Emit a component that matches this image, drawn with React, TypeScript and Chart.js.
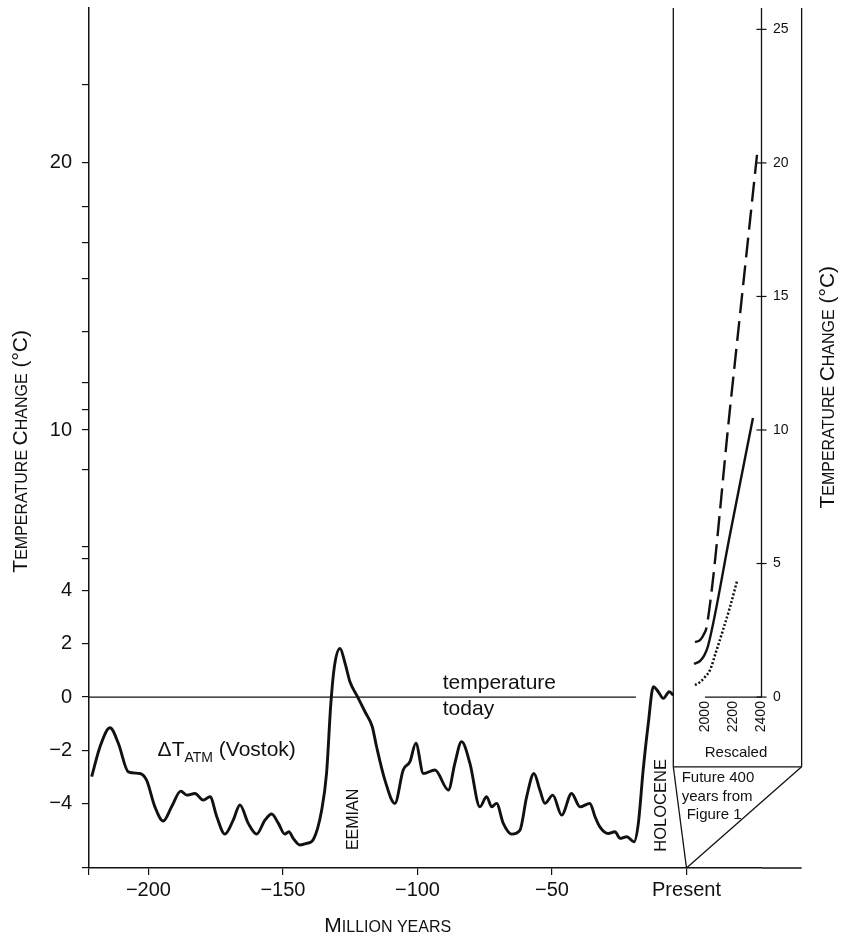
import React, { useEffect, useRef } from 'react';
import { Chart, registerables } from 'chart.js';

Chart.register(...registerables);

const FONT = '"Liberation Sans", Arial, Helvetica, sans-serif';
const INK = '#111';

// ---- main axes (age in "million years", temperature change in °C)
const X_MIN = -222.1;
const X_MAX = 28.07;
const Y_MIN = -6.4;
const Y_MAX = 25.8;
const X_TICKS = [-222.1, -200, -150, -100, -50, 0];
const Y_TICKS = [-6.4, -4, -2, 0, 2, 4, 5.17, 5.63, 8.5, 10, 10.75, 11.76, 13.7, 15.66, 17, 18.35, 20, 22.92];
const Y_LABELED = [-4, -2, 0, 2, 4, 10, 20];

// ---- inset ("Rescaled") axes
const INSET_YEAR_MIN = -2403.6;
const INSET_YEAR_MAX = 2403.6;
const INSET_TICKS = [2000, 2200, 2400];
const RIGHT_TICKS = [0, 5, 10, 15, 20, 25];

// ---- Vostok record
const VOSTOK_AGE = [
  -221.1, -218.0, -214.3, -211.2, -207.5, -203.2, -200.7, -197.6, -194.5, -191.4,
  -188.0, -185.8, -182.7, -179.6, -177.1, -174.6, -171.6, -168.5, -166.0, -162.9,
  -159.8, -156.7, -154.2, -151.7, -149.3, -147.8, -146.2, -143.7, -141.2, -138.7,
  -135.6, -133.8, -132.2, -130.9, -128.8, -126.9, -125.1, -122.6, -119.5, -116.8,
  -115.2, -112.1, -108.4, -105.3, -102.8, -100.6, -97.8, -93.5, -88.5, -86.1,
  -83.6, -80.5, -76.8, -74.3, -72.4, -70.6, -68.1, -65.0, -61.9, -59.4,
  -56.7, -54.5, -52.6, -49.7, -46.4, -42.7, -39.6, -35.9, -34.0, -32.2,
  -29.1, -26.6, -24.7, -22.2, -19.5, -17.9, -16.1, -14.2, -12.3, -10.5,
  -8.6, -6.4, -4.9,
];
const VOSTOK_TEMP = [
  -2.98, -1.86, -1.15, -1.73, -2.80, -2.86, -3.11, -4.11, -4.64, -4.11,
  -3.52, -3.67, -3.61, -3.86, -3.73, -4.48, -5.13, -4.61, -4.04, -4.73,
  -5.13, -4.61, -4.38, -4.73, -5.13, -5.04, -5.29, -5.54, -5.48, -5.33,
  -4.23, -2.86, -0.24, 1.13, 1.82, 1.26, 0.57, 0.07, -0.55, -1.11,
  -1.86, -3.11, -3.98, -2.73, -2.42, -1.73, -2.86, -2.73, -3.48, -2.48,
  -1.67, -2.48, -4.11, -3.73, -4.11, -3.98, -4.73, -5.13, -4.98, -3.73,
  -2.86, -3.48, -3.98, -3.67, -4.42, -3.61, -4.11, -3.98, -4.48, -4.86,
  -5.11, -5.04, -5.29, -5.23, -5.42, -4.73, -2.73, -0.99, 0.39, 0.20,
  -0.05, 0.20, 0.07,
];

// ---- "temperature today" reference line
const TODAY_AGE = [-222.1, -18.8];
const TODAY_TEMP = [0, 0];

// ---- future scenarios (rescaled years)
const DASHED_YEAR = [1925, 1961, 1989, 2011, 2175, 2368];
const DASHED_TEMP = [2.06, 2.13, 2.36, 2.7, 10.8, 20.3];
const SOLID_YEAR = [1918, 1961, 1989, 2018, 2175, 2339];
const SOLID_TEMP = [1.24, 1.35, 1.54, 1.91, 6.09, 10.45];
const DOTTED_YEAR = [1925, 1961, 1996, 2032, 2075, 2125, 2175, 2225];
const DOTTED_TEMP = [0.45, 0.56, 0.75, 1.01, 1.69, 2.51, 3.37, 4.34];

const INSET_AXIS_YEAR = [1996, 2400];
const INSET_AXIS_TEMP = [0, 0];
const RIGHT_AXIS_YEAR = [2400, 2400];
const RIGHT_AXIS_TEMP = [0, 25.8];

// ---- inset frame, in main-axis units: [x1, y1, x2, y2]
const FRAME_SEGMENTS = [
  [-4.9, 25.8, -4.9, -2.61],
  [-4.9, -2.61, 42.8, -2.61],
  [42.8, 25.8, 42.8, -2.61],
  [-4.9, -2.61, 0, -6.4],
  [42.8, -2.61, 0, -6.4],
  [28.07, -6.4, 42.8, -6.4],
];

const zip = (xs: number[], ys: number[]) => xs.map((x, i) => ({ x, y: ys[i] }));

function drawRuns(ctx: CanvasRenderingContext2D, parts: [string, number][], x: number, y: number, dy: number[] = []) {
  let cx = x;
  parts.forEach(([t, size], i) => {
    ctx.font = `${size}px ${FONT}`;
    ctx.fillText(t, cx, y + (dy[i] || 0));
    cx += ctx.measureText(t).width;
  });
  return cx - x;
}
function runsWidth(ctx: CanvasRenderingContext2D, parts: [string, number][]) {
  let w = 0;
  parts.forEach(([t, size]) => {
    ctx.font = `${size}px ${FONT}`;
    w += ctx.measureText(t).width;
  });
  return w;
}

const TITLE_Y: [string, number][] = [['T', 21], ['EMPERATURE', 16], [' ', 16], ['C', 21], ['HANGE', 16], [' (°C)', 21]];
const TITLE_X: [string, number][] = [['M', 21], ['ILLION', 16], [' ', 16], ['YEARS', 16]];

const annotations = {
  id: 'annotations',
  afterDraw(chart: any) {
    const { ctx, chartArea, scales } = chart;
    const x = scales.x, y = scales.y, xi = scales.xi;
    ctx.save();
    ctx.fillStyle = INK;
    ctx.textAlign = 'left';
    ctx.textBaseline = 'alphabetic';

    // ΔT_ATM (Vostok)
    drawRuns(ctx, [['ΔT', 21], ['ATM', 14], [' (Vostok)', 21]],
      x.getPixelForValue(-196.6), y.getPixelForValue(-2.21), [0, 6, 0]);

    // temperature today
    ctx.font = `21px ${FONT}`;
    ctx.fillText('temperature', x.getPixelForValue(-90.6), y.getPixelForValue(0.29));
    ctx.fillText('today', x.getPixelForValue(-90.6), y.getPixelForValue(-0.67));

    // rotated period labels
    const vertical = (text: string, px: number, py: number, size: number) => {
      ctx.save();
      ctx.translate(px, py);
      ctx.rotate(-Math.PI / 2);
      ctx.font = `${size}px ${FONT}`;
      ctx.fillText(text, 0, 0);
      ctx.restore();
    };
    vertical('EEMIAN', x.getPixelForValue(-122.0), y.getPixelForValue(-5.73), 16);
    vertical('HOLOCENE', x.getPixelForValue(-7.6), y.getPixelForValue(-5.79), 16.5);

    // inset labels
    ctx.font = `15px ${FONT}`;
    ctx.textAlign = 'center';
    ctx.textBaseline = 'middle';
    ctx.fillText('Rescaled', xi.getPixelForValue(2218), y.getPixelForValue(-2.1));
    ctx.textAlign = 'left';
    ctx.fillText('Future 400', x.getPixelForValue(-1.78), y.getPixelForValue(-3.03));
    ctx.fillText('years from', x.getPixelForValue(-1.78), y.getPixelForValue(-3.75));
    ctx.fillText('Figure 1', x.getPixelForValue(0.07), y.getPixelForValue(-4.42));

    // axis titles (small caps)
    ctx.textBaseline = 'alphabetic';
    const wy = runsWidth(ctx, TITLE_Y);
    ctx.save();
    ctx.translate(chartArea.left - 62, y.getPixelForValue(9.2));
    ctx.rotate(-Math.PI / 2);
    drawRuns(ctx, TITLE_Y, -wy / 2, 0);
    ctx.restore();

    ctx.save();
    ctx.translate(chartArea.right + 71.5, y.getPixelForValue(11.6));
    ctx.rotate(-Math.PI / 2);
    drawRuns(ctx, TITLE_Y, -wy / 2, 0);
    ctx.restore();

    const wx = runsWidth(ctx, TITLE_X);
    const cx = (x.getPixelForValue(X_MIN) + x.getPixelForValue(0)) / 2;
    drawRuns(ctx, TITLE_X, cx - wx / 2, chartArea.bottom + 64);

    ctx.restore();
  },
};

const line = (data: { x: number; y: number }[], extra: any = {}) => ({
  type: 'line',
  data,
  borderColor: INK,
  borderWidth: 1.3,
  pointRadius: 0,
  fill: false,
  ...extra,
});

export default function App() {
  const ref = useRef<HTMLCanvasElement>(null);

  useEffect(() => {
    const datasets: any[] = [
      line(zip(VOSTOK_AGE, VOSTOK_TEMP), { borderWidth: 2.9, cubicInterpolationMode: 'monotone', xAxisID: 'x', yAxisID: 'y' }),
      line(zip(TODAY_AGE, TODAY_TEMP), { xAxisID: 'x', yAxisID: 'y' }),
      line(zip(DASHED_YEAR, DASHED_TEMP), { borderWidth: 2.4, borderDash: [20, 8], cubicInterpolationMode: 'monotone', xAxisID: 'xi', yAxisID: 'y' }),
      line(zip(SOLID_YEAR, SOLID_TEMP), { borderWidth: 2.4, cubicInterpolationMode: 'monotone', xAxisID: 'xi', yAxisID: 'y' }),
      line(zip(DOTTED_YEAR, DOTTED_TEMP), { borderWidth: 2.5, borderDash: [2, 2], cubicInterpolationMode: 'monotone', xAxisID: 'xi', yAxisID: 'y' }),
      line(zip(INSET_AXIS_YEAR, INSET_AXIS_TEMP), { xAxisID: 'xi', yAxisID: 'y' }),
      line(zip(RIGHT_AXIS_YEAR, RIGHT_AXIS_TEMP), { xAxisID: 'xi', yAxisID: 'y', clip: false }),
      {
        type: 'scatter',
        data: RIGHT_TICKS.map((v) => ({ x: 2400, y: v })),
        xAxisID: 'xi',
        yAxisID: 'y',
        showLine: false,
        pointStyle: 'line',
        pointRadius: 5,
        radius: 5,
        pointBorderColor: INK,
        borderColor: INK,
        pointBorderWidth: 1.2,
        borderWidth: 1.2,
        clip: false,
      },
      ...FRAME_SEGMENTS.map(([x1, y1, x2, y2]) =>
        line([{ x: x1, y: y1 }, { x: x2, y: y2 }], { xAxisID: 'x', yAxisID: 'y', clip: false })),
    ];

    const chart = new Chart(ref.current as HTMLCanvasElement, {
      type: 'line',
      data: { datasets },
      plugins: [annotations as any],
      options: {
        animation: false,
        responsive: false,
        devicePixelRatio: 1,
        events: [],
        layout: { padding: { top: 8, left: 0, right: 0, bottom: 0 } },
        plugins: { legend: { display: false }, tooltip: { enabled: false }, title: { display: false } },
        scales: {
          x: {
            type: 'linear',
            position: 'bottom',
            min: X_MIN,
            max: X_MAX,
            afterBuildTicks: (s: any) => { s.ticks = X_TICKS.map((value) => ({ value })); },
            afterFit: (s: any) => { s.height = 70; s.paddingLeft = 0; s.paddingRight = 0; },
            ticks: {
              autoSkip: false,
              maxRotation: 0,
              padding: 3,
              color: INK,
              font: { family: FONT, size: 20 },
              callback: (v: any) => {
                const n = Number(v);
                if (n === X_MIN) return '';
                if (n === 0) return 'Present';
                return n < 0 ? '\u2212' + Math.abs(n) : String(n);
              },
            },
            grid: { display: true, drawOnChartArea: false, drawTicks: true, tickLength: 7, color: INK, lineWidth: 1.2 },
            border: { display: true, color: INK, width: 1.5 },
          },
          y: {
            type: 'linear',
            position: 'left',
            min: Y_MIN,
            max: Y_MAX,
            afterBuildTicks: (s: any) => { s.ticks = Y_TICKS.map((value) => ({ value })); },
            afterFit: (s: any) => { s.width = 89; s.paddingTop = 0; s.paddingBottom = 0; },
            ticks: {
              autoSkip: false,
              padding: 10,
              color: INK,
              font: { family: FONT, size: 20 },
              callback: (v: any) => {
                const n = Number(v);
                if (!Y_LABELED.includes(n)) return '';
                return n < 0 ? '\u2212' + Math.abs(n) : String(n);
              },
            },
            grid: { display: true, drawOnChartArea: false, drawTicks: true, tickLength: 7, color: INK, lineWidth: 1.2 },
            border: { display: true, color: INK, width: 1.5 },
          },
          y2: {
            type: 'linear',
            position: 'right',
            min: Y_MIN,
            max: Y_MAX,
            afterBuildTicks: (s: any) => { s.ticks = RIGHT_TICKS.map((value) => ({ value })); },
            afterFit: (s: any) => { s.width = 81; s.paddingTop = 0; s.paddingBottom = 0; },
            ticks: { autoSkip: false, padding: 11, color: INK, font: { family: FONT, size: 14 } },
            grid: { display: false, drawTicks: false },
            border: { display: false },
          },
          xi: {
            type: 'linear',
            position: { y: 0 } as any,
            min: INSET_YEAR_MIN,
            max: INSET_YEAR_MAX,
            afterBuildTicks: (s: any) => { s.ticks = INSET_TICKS.map((value) => ({ value })); },
            afterFit: (s: any) => { s.paddingLeft = 0; s.paddingRight = 0; },
            ticks: {
              autoSkip: false,
              minRotation: 90,
              maxRotation: 90,
              padding: 4,
              color: INK,
              font: { family: FONT, size: 14 },
              callback: (v: any) => String(v),
            },
            grid: { display: false, drawTicks: false },
            border: { display: false },
          },
        } as any,
      },
    } as any);
    return () => chart.destroy();
  }, []);

  return (
    <div style={{ position: 'absolute', left: 0, top: 0, width: 843, height: 938, background: '#fff' }}>
      <canvas ref={ref} width={843} height={938} style={{ display: 'block', width: 843, height: 938 }} />
    </div>
  );
}
